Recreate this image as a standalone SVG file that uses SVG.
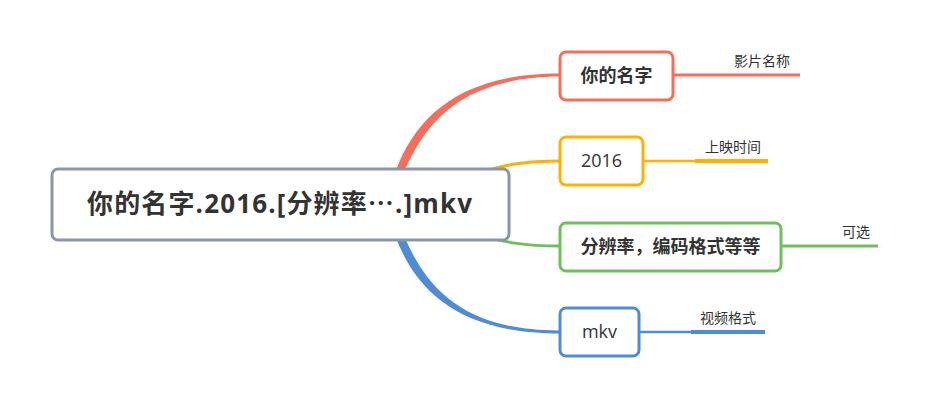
<svg xmlns="http://www.w3.org/2000/svg" width="929" height="407" viewBox="0 0 929 407">
<style>
text{font-family:"Open Sans","Noto Sans CJK SC",sans-serif;fill:#333;}
.b{font-weight:bold;}
.node{fill:#fff;stroke-width:3;}
.lbl{font-size:14px;}
.t{font-size:18px;}
</style>
<rect width="929" height="407" fill="#fff"/>
<g id="connectors" fill="none">
  <path d="M396,170 C416,118 458,73.5 560,73.5 L560,76.5 C462,77 426,122 405,170 Z" fill="#f76d5b"/>
  <path d="M396,238 C416,290 458,333.5 560,333.5 L560,330.5 C462,331 426,286 405,238 Z" fill="#4f8cd6"/>
  <path d="M470,176 C505,164 525,161 560,161" stroke="#ffb000" stroke-width="3"/>
  <path d="M470,232 C505,243 525,246 560,246" stroke="#6cc15a" stroke-width="3"/>
  <path d="M673,75 H800" stroke="#f76d5b" stroke-width="3"/>
  <path d="M643,161 H695" stroke="#ffb000" stroke-width="2.5"/>
  <path d="M695,161 H768" stroke="#ffb000" stroke-width="4"/>
  <path d="M781,246 H878" stroke="#6cc15a" stroke-width="3"/>
  <path d="M639,332 H691" stroke="#4f8cd6" stroke-width="2.5"/>
  <path d="M691,332 H765" stroke="#4f8cd6" stroke-width="4"/>
</g>
<g id="root">
  <rect class="node" x="52" y="169" width="457" height="71" rx="6" stroke="#8a96a8"/>
  <text class="b" x="87" y="213" font-size="26" textLength="385" lengthAdjust="spacing">你的名字.2016.[分辨率<tspan font-family="Noto Sans CJK SC">…</tspan>.]mkv</text>
</g>
<g id="n1">
  <rect class="node" x="560" y="52" width="113" height="48" rx="6" stroke="#f76d5b"/>
  <text class="b t" x="616.5" y="82" text-anchor="middle">你的名字</text>
</g>
<g id="n1l"><text class="lbl" x="734" y="66">影片名称</text></g>
<g id="n2">
  <rect class="node" x="560" y="137" width="83" height="48" rx="6" stroke="#ffb000"/>
  <text class="t" x="601.5" y="167" text-anchor="middle">2016</text>
</g>
<g id="n2l"><text class="lbl" x="705" y="152">上映时间</text></g>
<g id="n3">
  <rect class="node" x="560" y="223" width="221" height="48" rx="6" stroke="#6cc15a"/>
  <text class="b t" x="670.5" y="253" text-anchor="middle">分辨率，编码格式等等</text>
</g>
<g id="n3l"><text class="lbl" x="842" y="237">可选</text></g>
<g id="n4">
  <rect class="node" x="560" y="308" width="79" height="48" rx="6" stroke="#4f8cd6"/>
  <text class="t" x="599.5" y="338" text-anchor="middle">mkv</text>
</g>
<g id="n4l"><text class="lbl" x="700" y="323">视频格式</text></g>
</svg>
